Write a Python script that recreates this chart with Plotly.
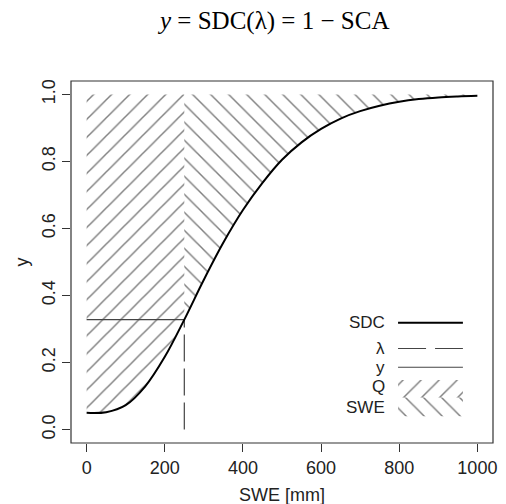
import plotly.graph_objects as go

# ---- data ----
swe = [0, 50, 100, 150, 200, 250, 300, 350, 400, 450, 500,
       550, 600, 650, 700, 750, 800, 850, 900, 950, 1000]
sdc = [0.050, 0.052, 0.073, 0.129, 0.217, 0.328, 0.447, 0.558, 0.655, 0.736, 0.805,
       0.857, 0.897, 0.928, 0.950, 0.966, 0.978, 0.986, 0.991, 0.994, 0.996]
lam = 250
x_ticks = [0, 200, 400, 600, 800, 1000]
y_ticks = [0.0, 0.2, 0.4, 0.6, 0.8, 1.0]
y_tick_labels = ["0.0", "0.2", "0.4", "0.6", "0.8", "1.0"]
legend_labels = ["SDC", "λ", "y", "Q", "SWE"]

FONT = "Liberation Sans, Arial, sans-serif"
HATCH = 12.75

i = swe.index(lam)
y_lam = sdc[i]

q_x = swe[:i + 1] + [lam, 0]
q_y = sdc[:i + 1] + [1, 1]
s_x = swe[i:] + [swe[-1], lam]
s_y = sdc[i:] + [1, 1]

fig = go.Figure()

def hatch_poly(xs, ys, shape):
    fig.add_trace(go.Scatter(
        x=xs, y=ys, mode="lines", fill="toself",
        line=dict(width=0, color="rgba(0,0,0,0)"),
        fillcolor="rgba(0,0,0,0)",
        fillpattern=dict(shape=shape, size=HATCH, solidity=0.115,
                         fgcolor="#000", bgcolor="rgba(0,0,0,0)"),
        hoverinfo="skip", showlegend=False))

hatch_poly(q_x, q_y, "/")
hatch_poly(s_x, s_y, "\\")

# horizontal y line
fig.add_trace(go.Scatter(x=[0, lam], y=[y_lam, y_lam], mode="lines",
                         line=dict(color="#444", width=1.2), showlegend=False))
# lambda dashed line
fig.add_trace(go.Scatter(x=[lam, lam], y=[0, y_lam], mode="lines",
                         line=dict(color="#444", width=1.2, dash="27px,7px"),
                         showlegend=False))
# SDC curve
fig.add_trace(go.Scatter(x=swe, y=sdc, mode="lines",
                         line=dict(color="black", width=2, shape="spline"),
                         showlegend=False))

# ---- legend (R style, no box) ----
lx0, lx1 = 797, 963
ly = [0.319, 0.242, 0.186, 0.128, 0.066]
ann = []
for lab, yy in zip(legend_labels, ly):
    ann.append(dict(x=769, y=yy, xref="x", yref="y", text=lab, showarrow=False,
                    xanchor="right", yanchor="middle",
                    font=dict(family=FONT, size=17, color="#222")))
shapes = [
    dict(type="line", xref="x", yref="y", x0=lx0, x1=lx1, y0=ly[0], y1=ly[0],
         line=dict(color="black", width=2)),
    dict(type="line", xref="x", yref="y", x0=lx0, x1=lx1, y0=ly[1], y1=ly[1],
         line=dict(color="#444", width=1.2, dash="28px,9px")),
    dict(type="line", xref="x", yref="y", x0=lx0, x1=lx1, y0=ly[2], y1=ly[2],
         line=dict(color="#444", width=1.2)),
    dict(type="rect", xref="paper", yref="paper", x0=0, x1=1, y0=0, y1=1,
         line=dict(color="#333", width=1.2)),
]
hatch_poly([lx0, lx1, lx1, lx0], [0.096, 0.096, 0.148, 0.148], "/")
hatch_poly([lx0, lx1, lx1, lx0], [0.040, 0.040, 0.096, 0.096], "\\")

# title and axis titles
ann.append(dict(x=0.479, y=1.166, xref="paper", yref="paper",
                text="<i>y</i> = SDC(λ) = 1 − SCA", showarrow=False,
                xanchor="center", yanchor="middle",
                font=dict(family="Liberation Serif, Times New Roman, serif", size=25, color="black")))
ann.append(dict(x=0.5, y=-0.1436, xref="paper", yref="paper", text="SWE [mm]",
                showarrow=False, xanchor="center", yanchor="middle",
                font=dict(family=FONT, size=18, color="#222")))
ann.append(dict(x=-0.115, y=0.5, xref="paper", yref="paper", text="y",
                showarrow=False, xanchor="center", yanchor="middle", textangle=-90,
                font=dict(family=FONT, size=18, color="#222")))

fig.update_layout(
    width=506, height=504,
    margin=dict(l=71, r=9, t=81, b=61),
    plot_bgcolor="white", paper_bgcolor="white",
    showlegend=False,
    shapes=shapes, annotations=ann,
    xaxis=dict(range=[-40, 1040], tickvals=x_ticks, ticks="outside", ticklen=8,
               tickcolor="#333", tickwidth=1.2, showline=False, showgrid=False,
               zeroline=False, tickfont=dict(family=FONT, size=18, color="#222")),
    yaxis=dict(range=[-0.04, 1.04], tickvals=y_ticks, ticktext=y_tick_labels,
               ticks="outside", ticklen=8, tickcolor="#333", tickwidth=1.2,
               tickangle=-90, showline=False, showgrid=False, zeroline=False,
               tickfont=dict(family=FONT, size=18, color="#222")),
)

fig.write_html("out.html")
